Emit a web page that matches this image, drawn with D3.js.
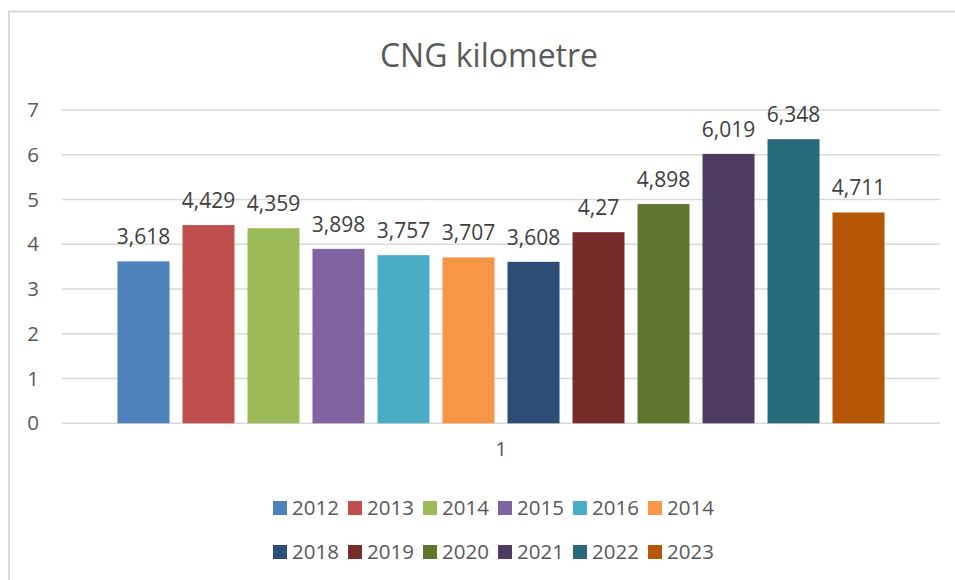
<!DOCTYPE html>
<html>
<head>
<meta charset="utf-8">
<script src="https://cdn.jsdelivr.net/npm/d3@7"></script>
<style>
  body { margin: 0; background: #fff; }
  svg text { font-family: "Open Sans", "Liberation Sans", sans-serif; }
</style>
</head>
<body>
<svg id="chart" width="955" height="580"></svg>
<script>
// chart values
const categories = ["1"];
const years = ["2012", "2013", "2014", "2015", "2016", "2014", "2018", "2019", "2020", "2021", "2022", "2023"];
const values = [3.618, 4.429, 4.359, 3.898, 3.757, 3.707, 3.608, 4.27, 4.898, 6.019, 6.348, 4.711];
const valueLabels = ["3,618", "4,429", "4,359", "3,898", "3,757", "3,707", "3,608", "4,27", "4,898", "6,019", "6,348", "4,711"];
const yTicks = [0, 1, 2, 3, 4, 5, 6, 7];
const colors = ["#4f81bd", "#c0504d", "#9bbb59", "#8064a2", "#4bacc6", "#f79646",
                "#2c4d75", "#772c2a", "#5f7530", "#4d3b62", "#276a7c", "#b65708"];

const svg = d3.select("#chart");

// outer chart frame (only top/left edges visible)
svg.append("rect")
    .attr("x", 9).attr("y", 11.5)
    .attr("width", 1000).attr("height", 700)
    .attr("fill", "none")
    .attr("stroke", "#d9d9d9")
    .attr("stroke-width", 2);

// title
svg.append("text")
    .attr("x", 489)
    .attr("y", 67)
    .attr("text-anchor", "middle")
    .style("font-size", "32px")
    .style("fill", "#595959")
    .text("CNG kilometre");

const y = d3.scaleLinear()
    .domain([0, 7])
    .range([423.3, 110]);

const x0 = d3.scaleBand()
    .domain(categories)
    .range([62, 940])
    .paddingInner(0)
    .paddingOuter(0.0628);

const x1 = d3.scaleBand()
    .domain(d3.range(years.length))
    .range([0, x0.bandwidth()])
    .paddingInner(0.2)
    .paddingOuter(0.1);

// gridlines
svg.append("g")
    .selectAll("line")
    .data(yTicks)
    .join("line")
    .attr("x1", 62).attr("x2", 940)
    .attr("y1", d => y(d)).attr("y2", d => y(d))
    .attr("stroke", "#d9d9d9")
    .attr("stroke-width", 1.5);

// y axis labels
const yAxis = svg.append("g")
    .attr("transform", "translate(39,0)")
    .call(d3.axisLeft(y).tickValues(yTicks).tickFormat(d3.format("d")).tickSize(0).tickPadding(0));
yAxis.select(".domain").remove();
yAxis.selectAll("text")
    .style("font-size", "20.5px")
    .style("fill", "#595959")
    .style("font-family", "'Open Sans', sans-serif");

// x axis category label
const xAxis = svg.append("g")
    .attr("transform", "translate(0,441)")
    .call(d3.axisBottom(x0).tickSize(0).tickPadding(0));
xAxis.select(".domain").remove();
xAxis.selectAll("text")
    .style("font-size", "20.5px")
    .style("fill", "#595959")
    .style("font-family", "'Open Sans', sans-serif");

// bars
const group = svg.append("g")
    .attr("transform", `translate(${x0("1")},0)`);

group.selectAll("rect")
    .data(values)
    .join("rect")
    .attr("x", (d, i) => x1(i))
    .attr("y", d => y(d))
    .attr("width", x1.bandwidth())
    .attr("height", d => y(0) - y(d))
    .attr("fill", (d, i) => colors[i]);

// data labels
group.selectAll("text")
    .data(values)
    .join("text")
    .attr("x", (d, i) => x1(i) + x1.bandwidth() / 2)
    .attr("y", d => y(d) - 17)
    .attr("text-anchor", "middle")
    .style("font-size", "21px")
    .style("fill", "#404040")
    .text((d, i) => valueLabels[i]);

// legend, two rows of six
const legend = svg.append("g");
const item = legend.selectAll("g")
    .data(years)
    .join("g")
    .attr("transform", (d, i) => `translate(${273 + (i % 6) * 75},${i < 6 ? 501 : 545})`);

item.append("rect")
    .attr("width", 14).attr("height", 14)
    .attr("fill", (d, i) => colors[i]);

item.append("text")
    .attr("x", 19)
    .attr("y", 14)
    .style("font-size", "20.5px")
    .style("fill", "#595959")
    .text(d => d);
</script>
</body>
</html>
